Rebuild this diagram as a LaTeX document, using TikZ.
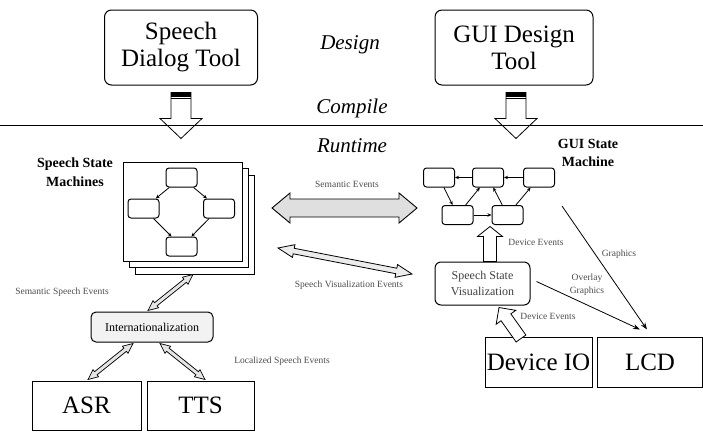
\documentclass[tikz,border=0pt]{standalone}
\usepackage{fontspec}
\setmainfont{Liberation Serif}[Ligatures=TeX]
\usetikzlibrary{arrows.meta,calc}

\newcommand{\bigtext}{\rmfamily\fontsize{25}{27}\selectfont}
\newcommand{\phasetext}{\rmfamily\fontsize{21}{24}\selectfont\itshape}
\newcommand{\headtext}{\rmfamily\fontsize{14}{18.5}\selectfont\bfseries}
\newcommand{\midtext}{\rmfamily\fontsize{12}{16}\selectfont}
\newcommand{\smalltext}{\rmfamily\fontsize{9.5}{13}\selectfont}

% hollow block arrows between two named points: [style]{from}{to}{shaft}{head}{head length}
\newcommand{\dblockarrow}[6][]{%
  \path (#2); \pgfgetlastxy{\arrax}{\array}%
  \path (#3); \pgfgetlastxy{\arrbx}{\arrby}%
  \pgfmathsetmacro\arrang{atan2(\arrby-\array,\arrbx-\arrax)}%
  \pgfmathsetmacro\arrlen{veclen(\arrbx-\arrax,\arrby-\array)}%
  \pgfmathsetmacro\arrmid{\arrlen-#6}%
  \draw[#1,shift={(#2)},rotate=\arrang]
    (0pt,0pt) -- (#6pt,#5pt) -- (#6pt,#4pt) -- (\arrmid pt,#4pt) -- (\arrmid pt,#5pt)
    -- (\arrlen pt,0pt) -- (\arrmid pt,-#5pt) -- (\arrmid pt,-#4pt) -- (#6pt,-#4pt)
    -- (#6pt,-#5pt) -- cycle;}
\newcommand{\sblockarrow}[6][]{%
  \path (#2); \pgfgetlastxy{\arrax}{\array}%
  \path (#3); \pgfgetlastxy{\arrbx}{\arrby}%
  \pgfmathsetmacro\arrang{atan2(\arrby-\array,\arrbx-\arrax)}%
  \pgfmathsetmacro\arrlen{veclen(\arrbx-\arrax,\arrby-\array)}%
  \pgfmathsetmacro\arrmid{\arrlen-#6}%
  \draw[#1,shift={(#2)},rotate=\arrang]
    (0pt,#4pt) -- (\arrmid pt,#4pt) -- (\arrmid pt,#5pt) -- (\arrlen pt,0pt)
    -- (\arrmid pt,-#5pt) -- (\arrmid pt,-#4pt) -- (0pt,-#4pt) -- cycle;}

\begin{document}
\begin{tikzpicture}[x=1pt,y=-1pt,font=\rmfamily,
  box/.style={draw,line width=1pt,inner sep=0pt,align=center},
  tool/.style={box,rounded corners=7pt,font=\bigtext},
  device/.style={box,font=\bigtext,minimum height=50pt},
  state/.style={draw,line width=1pt,rounded corners=3pt,minimum width=31pt,
    minimum height=19pt,inner sep=0pt},
  trans/.style={-{Stealth[length=4pt,width=3.5pt]},line width=0.8pt},
  evt/.style={font=\smalltext,text=black!70,inner sep=1pt},
  phase/.style={font=\phasetext}]
  \useasboundingbox (0,0) rectangle (703,431);

  % Design time: the two tools and the phase names.
  \node[tool,minimum width=153pt,minimum height=75pt] (sdt) at (181,47.5)
    {Speech\\Dialog Tool};
  \node[tool,minimum width=158pt,minimum height=75pt] (gdt) at (514,47.5)
    {GUI Design\\Tool};
  \node[phase] (design) at (350,45) {Design};
  \node[phase] (compile) at (352,108) {Compile};
  \node[phase] (runtime) at (352,146) {Runtime};

  % Compile arrows, crossing the design/runtime line.
  \coordinate (sdtout) at ($(sdt.south)+(0,7)$);
  \coordinate (sdtin) at ($(sdt.south)+(0,53)$);
  \coordinate (gdtout) at ($(gdt.south)+(2,7)$);
  \coordinate (gdtin) at ($(gdt.south)+(2,53)$);
  \sblockarrow[fill=white,line width=0.8pt]{sdtout}{sdtin}{10}{21}{20}
  \sblockarrow[fill=white,line width=0.8pt]{gdtout}{gdtin}{10}{21}{20}
  \foreach \c in {sdtout,gdtout}{
    \fill ($(\c)+(-10,0)$) rectangle ($(\c)+(10,4)$);
    \draw[line width=0.6pt] ($(\c)+(-10,6)$) -- ($(\c)+(10,6)$);
  }
  \coordinate (lineW) at (0,125);
  \coordinate (lineE) at (703,125);
  \draw[line width=0.9pt] (lineW) -- (lineE);

  % Speech state machines: a stack of three sheets.
  \node[font=\headtext,align=center] (ssmlab) at (75,172) {Speech State\\Machines};
  \foreach \dx/\dy/\n in {12/13/ssmc,6/6.5/ssmb}{
    \node[draw,fill=white,line width=1pt,minimum width=119pt,minimum height=99pt,
      inner sep=0pt] (\n) at ($(182.5,211.5)+(\dx,\dy)$) {};
  }
  \node[draw,fill=white,line width=1pt,minimum width=119pt,minimum height=99pt,
    inner sep=0pt] (ssm) at (182.5,211.5) {};
  \node[state] (sst) at (181.5,177.5) {};
  \node[state] (ssl) at (143.5,208.5) {};
  \node[state] (ssr) at (219,208.5) {};
  \node[state] (ssb) at (181.5,246.5) {};
  \foreach \a/\b in {sst/ssl,sst/ssr,ssl/ssb,ssr/ssb}
    \draw[trans] (\a) -- (\b);

  % GUI state machine.
  \node[font=\headtext,align=center] (guilab) at (588,153) {GUI State\\Machine};
  \node[state] (g1) at (439,177.5) {};
  \node[state] (g2) at (488,177.5) {};
  \node[state] (g3) at (539,177.5) {};
  \node[state] (g4) at (457.5,215) {};
  \node[state] (g5) at (507.5,215) {};
  \foreach \a/\b in {g2/g1,g3/g2,g1/g4,g4/g2,g4/g5,g5/g2,g5/g3}
    \draw[trans] (\a) -- (\b);

  % Events between the two machines.
  \coordinate (semW) at (272,208);
  \coordinate (semE) at (417,208);
  \dblockarrow[fill=gray!25,line width=0.9pt]{semW}{semE}{9}{15}{18}
  \node[evt] (lsemev) at (347,184) {Semantic Events};
  \coordinate (visW) at (278,248);
  \coordinate (visE) at (412,274);
  \dblockarrow[fill=gray!15,line width=0.8pt]{visW}{visE}{2.8}{6.5}{16}
  \node[evt] (lvisev) at (349,285) {Speech Visualization Events};

  % Speech side: internationalization, recognizer and synthesizer.
  \node[box,rounded corners=5pt,fill=gray!10,minimum width=122pt,minimum height=30pt,
    font=\midtext] (intl) at (152,327) {Internationalization};
  \node[device,minimum width=109pt,minimum height=49pt] (asr) at (86.5,405.5) {ASR};
  \node[device,minimum width=107pt,minimum height=49pt] (tts) at (200.5,405.5) {TTS};
  \dblockarrow[fill=gray!20,line width=0.7pt]{$(ssmc.south)+(-1.5,0)$}{$(intl.north)+(-4,-1)$}{2}{4.5}{10}
  \dblockarrow[fill=gray!20,line width=0.7pt]{$(intl.south)+(-19,1)$}{$(asr.north)+(1.5,-1)$}{2}{4.5}{10}
  \dblockarrow[fill=gray!20,line width=0.7pt]{$(intl.south)+(8,1)$}{$(tts.north)+(4.5,-1)$}{2}{4.5}{10}
  \node[evt] (lsemsp) at (62,292) {Semantic Speech Events};
  \node[evt] (lloc) at (282,361) {Localized Speech Events};

  % GUI side: visualization, devices and display.
  \node[box,rounded corners=6pt,minimum width=95pt,minimum height=43pt,font=\midtext,
    text=black!75] (ssv) at (482.5,283.5) {Speech State\\Visualization};
  \node[device,minimum width=107pt] (devio) at (538.5,362) {Device IO};
  \node[device,minimum width=105pt] (lcd) at (650,362) {LCD};
  \sblockarrow[fill=white,line width=0.8pt]{$(ssv.north)+(7.5,0)$}{$(g5.south)+(-17.5,1.5)$}{6.5}{12.5}{10}
  \sblockarrow[fill=white,line width=0.8pt]{$(devio.north)+(-17.5,2)$}{$(ssv.south)+(16.5,2)$}{6}{12}{12}
  \node[evt] (ldev1) at (536,242) {Device Events};
  \node[evt] (ldev2) at (548,316) {Device Events};
  \coordinate (gfxstart) at (562,206);
  \draw[line width=0.8pt,-{Stealth[length=7pt,width=5pt]}]
    (gfxstart) -- ($(lcd.north)+(-3,-7)$);
  \draw[line width=0.8pt,-{Stealth[length=7pt,width=5pt]}]
    ($(ssv.east)+(6,-2)$) -- ($(lcd.north)+(-10,-7)$);
  \node[evt] (lgfx) at (619,254) {Graphics};
  \node[evt,align=center] (lovl) at (587,285) {Overlay\\Graphics};
\end{tikzpicture}
\end{document}
